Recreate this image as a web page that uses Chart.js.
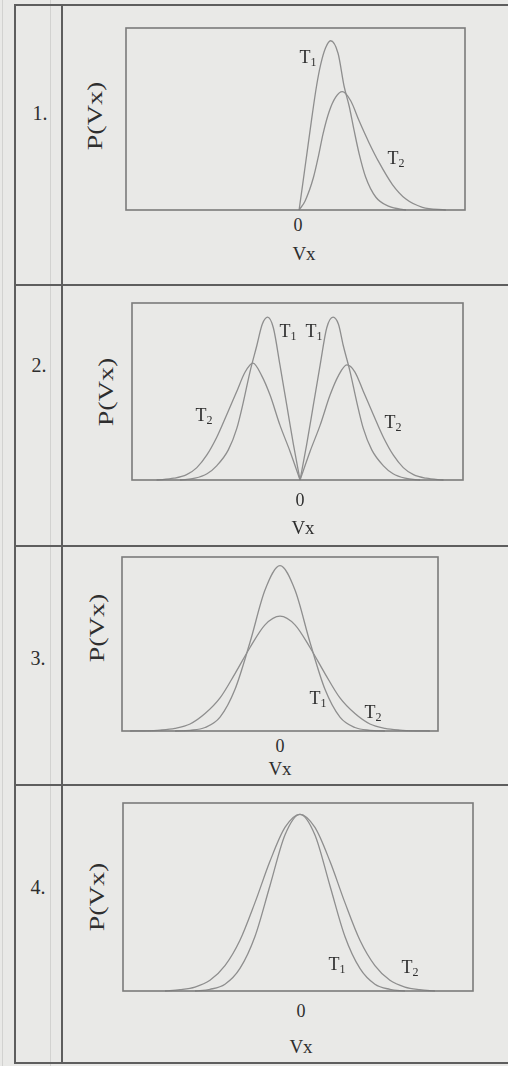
<!DOCTYPE html>
<html><head><meta charset="utf-8">
<script src="https://cdn.jsdelivr.net/npm/chart.js@4/dist/chart.umd.min.js"></script>
<style>
html,body{margin:0;padding:0}
body{width:508px;height:1066px;background:#e9e9e7;position:relative;overflow:hidden;font-family:"Liberation Serif","DejaVu Serif",serif;color:#2e2e2e}
.ln{position:absolute;background:#5e5e5e}
.fl{position:absolute;background:#d2d2d0}
.lb{position:absolute;transform:translate(-50%,-50%);white-space:nowrap;line-height:1}
.lb sub{font-size:12px;vertical-align:-3px;line-height:0}
.yl{position:absolute;white-space:nowrap;line-height:1;font-size:20px;transform:translate(-50%,-50%) rotate(-90deg) scaleX(1.4)}
.cv{position:absolute}
</style></head>
<body>
<div class="fl" style="left:2px;top:0;width:1px;height:1066px"></div>
<div class="fl" style="left:50px;top:0;width:1px;height:1066px"></div>
<div class="ln" style="left:14px;top:4px;width:494px;height:2px"></div>
<div class="ln" style="left:14px;top:284px;width:494px;height:2px"></div>
<div class="ln" style="left:14px;top:545px;width:494px;height:2px"></div>
<div class="ln" style="left:14px;top:784px;width:494px;height:2px"></div>
<div class="ln" style="left:14px;top:1062px;width:494px;height:2px"></div>
<div class="ln" style="left:14px;top:4px;width:2px;height:1060px"></div>
<div class="ln" style="left:61px;top:4px;width:2px;height:1060px"></div>

<div class="cv" style="left:122px;top:24px;width:347px;height:190px"><canvas id="c1"></canvas></div>
<div class="cv" style="left:128px;top:299px;width:339px;height:185px"><canvas id="c2"></canvas></div>
<div class="cv" style="left:118px;top:553px;width:324px;height:182px"><canvas id="c3"></canvas></div>
<div class="cv" style="left:119px;top:799px;width:358px;height:196px"><canvas id="c4"></canvas></div>

<!-- panel 1 labels -->
<div class="lb" style="left:40px;top:113px;font-size:20px">1.</div>
<div class="yl" style="left:95px;top:116px">P(Vx)</div>
<div class="lb" style="left:298px;top:225px;font-size:18px">0</div>
<div class="lb" style="left:304px;top:253px;font-size:19px">Vx</div>
<div class="lb" style="left:308px;top:57px;font-size:18px">T<sub>1</sub></div>
<div class="lb" style="left:396px;top:158px;font-size:18px">T<sub>2</sub></div>
<!-- panel 2 labels -->
<div class="lb" style="left:39px;top:365px;font-size:20px">2.</div>
<div class="yl" style="left:106px;top:392px">P(Vx)</div>
<div class="lb" style="left:300px;top:500px;font-size:18px">0</div>
<div class="lb" style="left:303px;top:527px;font-size:19px">Vx</div>
<div class="lb" style="left:288px;top:331px;font-size:18px">T<sub>1</sub></div>
<div class="lb" style="left:314px;top:331px;font-size:18px">T<sub>1</sub></div>
<div class="lb" style="left:204px;top:415px;font-size:18px">T<sub>2</sub></div>
<div class="lb" style="left:393px;top:422px;font-size:18px">T<sub>2</sub></div>
<!-- panel 3 labels -->
<div class="lb" style="left:38px;top:658px;font-size:20px">3.</div>
<div class="yl" style="left:97px;top:628px">P(Vx)</div>
<div class="lb" style="left:280px;top:746px;font-size:18px">0</div>
<div class="lb" style="left:280px;top:768px;font-size:19px">Vx</div>
<div class="lb" style="left:318px;top:698px;font-size:18px">T<sub>1</sub></div>
<div class="lb" style="left:373px;top:712px;font-size:18px">T<sub>2</sub></div>
<!-- panel 4 labels -->
<div class="lb" style="left:38px;top:887px;font-size:20px">4.</div>
<div class="yl" style="left:97px;top:897px">P(Vx)</div>
<div class="lb" style="left:301px;top:1011px;font-size:18px">0</div>
<div class="lb" style="left:301px;top:1046px;font-size:19px">Vx</div>
<div class="lb" style="left:337px;top:964px;font-size:18px">T<sub>1</sub></div>
<div class="lb" style="left:410px;top:967px;font-size:18px">T<sub>2</sub></div>

<script>
// ---- data (x in arbitrary Vx units, y as fraction of box height) ----
// Panel 1
const p1T1x = [0, 0.11, 0.26, 0.41, 0.58, 0.72, 0.88, 1.05, 1.3, 1.5, 1.67, 1.83, 2.0, 2.22, 2.56, 3.0, 3.56];
const p1T1y = [0, 0.13, 0.31, 0.49, 0.68, 0.80, 0.89, 0.93, 0.86, 0.68, 0.57, 0.44, 0.31, 0.18, 0.07, 0.02, 0];
const p1T2x = [0, 0.2, 0.48, 0.65, 0.8, 1.0, 1.22, 1.44, 1.72, 2.0, 2.33, 2.67, 3.11, 3.56, 4.11, 4.89];
const p1T2y = [0, 0.05, 0.18, 0.30, 0.42, 0.54, 0.62, 0.65, 0.60, 0.49, 0.37, 0.26, 0.14, 0.06, 0.015, 0];
// Panel 2 (right and left halves)
const p2T1xR = [0, 0.22, 0.44, 0.67, 0.89, 1.1, 1.28, 1.44, 1.67, 1.89, 2.11, 2.39, 2.78, 3.1, 3.5, 4.0];
const p2T1yR = [0, 0.20, 0.42, 0.65, 0.86, 0.92, 0.88, 0.76, 0.61, 0.44, 0.29, 0.17, 0.08, 0.035, 0.01, 0];
const p2T1xL = [0, -0.22, -0.44, -0.67, -0.89, -1.08, -1.26, -1.44, -1.67, -1.89, -2.11, -2.39, -2.78, -3.1, -3.5, -4.0];
const p2T1yL = [0, 0.20, 0.42, 0.65, 0.86, 0.92, 0.88, 0.76, 0.61, 0.44, 0.29, 0.17, 0.08, 0.035, 0.01, 0];
const p2T2xR = [0, 0.33, 0.67, 1.0, 1.28, 1.56, 1.83, 2.11, 2.44, 2.78, 3.11, 3.44, 3.78, 4.2, 4.78];
const p2T2yR = [0, 0.16, 0.31, 0.48, 0.59, 0.65, 0.61, 0.50, 0.37, 0.24, 0.14, 0.07, 0.03, 0.01, 0];
const p2T2xL = [0, -0.33, -0.67, -1.0, -1.28, -1.57, -1.83, -2.11, -2.44, -2.78, -3.11, -3.44, -3.78, -4.2, -4.78];
const p2T2yL = [0, 0.16, 0.31, 0.48, 0.59, 0.66, 0.61, 0.50, 0.37, 0.24, 0.14, 0.07, 0.03, 0.01, 0];
// Panel 3
const p3T1x = [-3.5, -3, -2.5, -2, -1.5, -1, -0.5, 0, 0.5, 1, 1.5, 2, 2.5, 3, 3.5];
const p3T1y = [0, 0.004, 0.02, 0.08, 0.24, 0.51, 0.81, 0.95, 0.81, 0.51, 0.24, 0.08, 0.02, 0.004, 0];
const p3T2x = [-5, -4.5, -4, -3.5, -3, -2.5, -2, -1.5, -1, -0.5, 0, 0.5, 1, 1.5, 2, 2.5, 3, 3.5, 4, 4.5, 5];
const p3T2y = [0, 0.001, 0.005, 0.015, 0.04, 0.10, 0.19, 0.33, 0.48, 0.61, 0.66, 0.61, 0.48, 0.33, 0.19, 0.10, 0.04, 0.015, 0.005, 0.001, 0];
// Panel 4
const p4T1x = [-3.5, -3, -2.5, -2, -1.5, -1, -0.5, 0, 0.5, 1, 1.5, 2, 2.5, 3, 3.5];
const p4T1y = [0, 0.009, 0.036, 0.12, 0.29, 0.56, 0.83, 0.94, 0.83, 0.56, 0.29, 0.12, 0.036, 0.009, 0];
const p4T2x = [-4.5, -4, -3.5, -3, -2.5, -2, -1.5, -1, -0.5, 0, 0.5, 1, 1.5, 2, 2.5, 3, 3.5, 4, 4.5];
const p4T2y = [0, 0.007, 0.021, 0.057, 0.135, 0.27, 0.47, 0.69, 0.87, 0.94, 0.87, 0.69, 0.47, 0.27, 0.135, 0.057, 0.021, 0.007, 0];

function pts(xs, ys){ return xs.map((x,i)=>({x:x, y:ys[i]})); }

const boxPlugin = {
  id:'box',
  afterDatasetsDraw(chart){
    const a = chart.chartArea, c = chart.ctx;
    c.save();
    c.strokeStyle = '#7b7b7b';
    c.lineWidth = 1.6;
    c.strokeRect(a.left, a.top, a.right-a.left, a.bottom-a.top);
    c.restore();
  }
};

function ds(points){
  return {data:points, borderColor:'#8e8e8e', borderWidth:1.3, pointRadius:0, fill:false,
          cubicInterpolationMode:'monotone', clip:false};
}

function make(id, xmin, xmax, series){
  new Chart(document.getElementById(id), {
    type:'line',
    data:{datasets: series.map(ds)},
    options:{
      responsive:true, maintainAspectRatio:false, animation:false,
      layout:{padding:4},
      plugins:{legend:{display:false}, tooltip:{enabled:false}},
      scales:{
        x:{type:'linear', min:xmin, max:xmax, display:false},
        y:{type:'linear', min:0, max:1, display:false}
      }
    },
    plugins:[boxPlugin]
  });
}

make('c1', -5.77, 5.53, [pts(p1T1x,p1T1y), pts(p1T2x,p1T2y)]);
make('c2', -5.6, 5.43, [pts(p2T1xR,p2T1yR), pts(p2T1xL,p2T1yL), pts(p2T2xR,p2T2yR), pts(p2T2xL,p2T2yL)]);
make('c3', -5.27, 5.27, [pts(p3T1x,p3T1y), pts(p3T2x,p3T2y)]);
make('c4', -5.9, 5.77, [pts(p4T1x,p4T1y), pts(p4T2x,p4T2y)]);
</script>
</body></html>
